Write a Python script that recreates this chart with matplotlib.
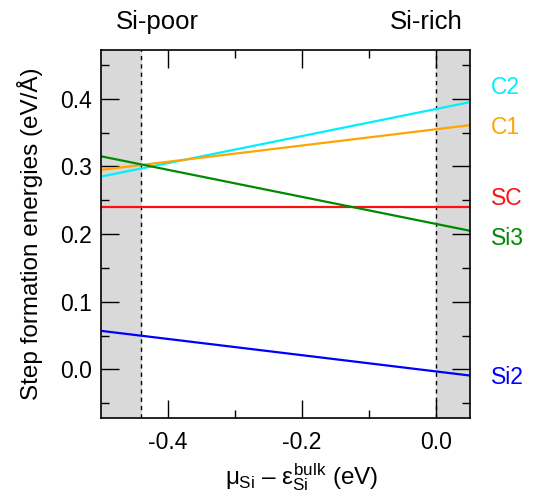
import numpy as np
import matplotlib.pyplot as plt

plt.rcParams['font.family'] = ['Liberation Sans', 'DejaVu Sans']
plt.rcParams['mathtext.fontset'] = 'custom'
plt.rcParams['mathtext.rm'] = 'Liberation Sans'
plt.rcParams['mathtext.it'] = 'Liberation Sans'

# chemical potential range (endpoints of each line)
mu = np.array([-0.5, 0.05])

names = ['C2', 'C1', 'SC', 'Si3', 'Si2']
colors = ['#00f0ff', '#ffa500', '#ff1010', '#008a00', '#0000ff']
energies = [
    [0.285, 0.395],   # C2
    [0.295, 0.361],   # C1
    [0.240, 0.240],   # SC
    [0.315, 0.205],   # Si3
    [0.057, -0.009],  # Si2
]
label_y = [0.417, 0.357, 0.253, 0.193, -0.012]

mu_poor = -0.44
mu_rich = 0.0

fig = plt.figure(figsize=(5.35, 4.96), dpi=100)
ax = fig.add_axes([0.189, 0.157, 0.689, 0.742])

ax.axvspan(-0.5, mu_poor, color='#d9d9d9', zorder=0)
ax.axvspan(mu_rich, 0.05, color='#d9d9d9', zorder=0)
ax.axvline(mu_poor, color='k', ls=(0, (3, 3)), lw=1)
ax.axvline(mu_rich, color='k', ls=(0, (3, 3)), lw=1)

for n, c, e, ly in zip(names, colors, energies, label_y):
    ax.plot(mu, e, color=c, lw=1.6)
    ax.text(1.057, ly, n, color=c, fontsize=16.5, va='center',
            transform=ax.get_yaxis_transform())

ax.set_xlim(-0.5, 0.05)
ax.set_ylim(-0.072, 0.472)
ax.set_xticks([-0.4, -0.2, 0.0])
ax.set_xticks([-0.3, -0.1], minor=True)
ax.set_yticks([0.0, 0.1, 0.2, 0.3, 0.4])
ax.set_yticks([-0.05, 0.05, 0.15, 0.25, 0.35, 0.45], minor=True)
ax.xaxis.set_major_formatter(plt.FormatStrFormatter('%.1f'))
ax.yaxis.set_major_formatter(plt.FormatStrFormatter('%.1f'))
ax.tick_params(which='both', direction='in', top=True, right=True, width=1)
ax.tick_params(which='major', length=13, labelsize=16.5)
ax.tick_params(axis='y', which='major', pad=6.5)
ax.tick_params(axis='x', which='major', pad=9)
ax.tick_params(which='minor', length=6)
for s in ax.spines.values():
    s.set_linewidth(1.2)

ax.set_xlabel(r'$\mu_{\mathrm{Si}}$ – $\varepsilon_{\mathrm{Si}}^{\mathrm{bulk}}$ (eV)',
              fontsize=17.5, va='center')
ax.xaxis.set_label_coords(0.545, -0.16)
ax.set_ylabel('Step formation energies (eV/Å)', fontsize=17.5, va='center')
ax.yaxis.set_label_coords(-0.192, 0.5)

ax.text(mu_poor + 0.024, 1.075, 'Si-poor', fontsize=18.5, ha='center', va='center',
        transform=ax.get_xaxis_transform())
ax.text(mu_rich - 0.015, 1.075, 'Si-rich', fontsize=18.5, ha='center', va='center',
        transform=ax.get_xaxis_transform())

fig.savefig('out.png', dpi=100)
